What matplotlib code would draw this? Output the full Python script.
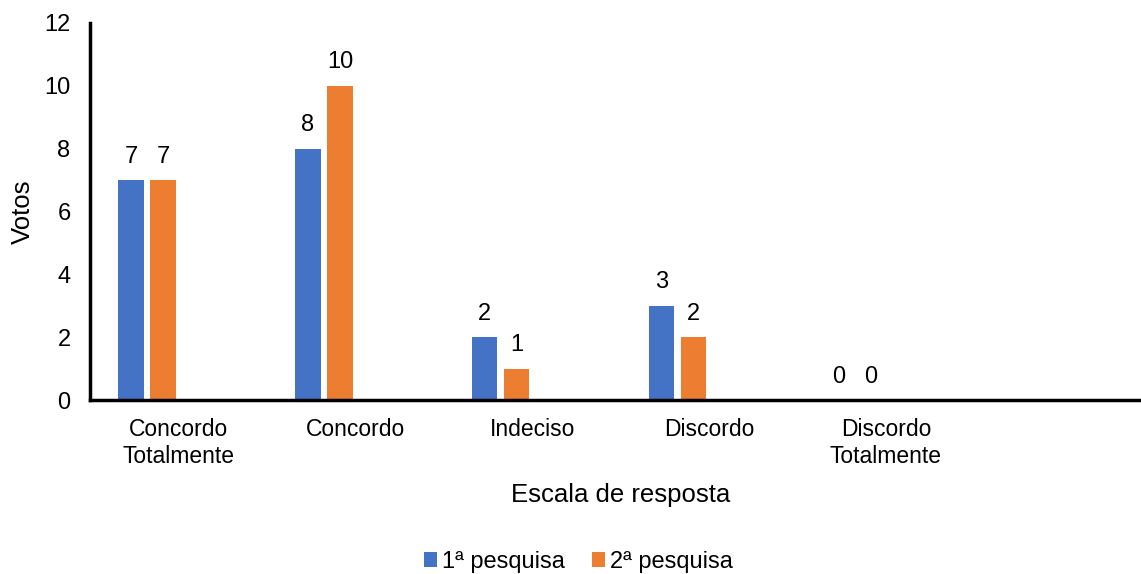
import numpy as np
import matplotlib.pyplot as plt

plt.rcParams['font.family'] = ['Liberation Sans', 'DejaVu Sans']

categorias = ['Concordo\nTotalmente', 'Concordo', 'Indeciso', 'Discordo', 'Discordo\nTotalmente']
pesquisa_1 = [7, 8, 2, 3, 0]
pesquisa_2 = [7, 10, 1, 2, 0]

azul = '#4472C4'
laranja = '#ED7D31'

fig = plt.figure(figsize=(11.41, 5.74), dpi=100)
ax = fig.add_axes([0.0789, 0.303, 0.93, 0.657])

x = np.arange(len(categorias))
largura = 0.143
b1 = ax.bar(x - 0.268, pesquisa_1, largura, color=azul, label='1ª pesquisa')
b2 = ax.bar(x - 0.087, pesquisa_2, largura, color=laranja, label='2ª pesquisa')

# rótulos de valor acima das barras
for barras in (b1, b2):
    for b in barras:
        h = b.get_height()
        ax.annotate(str(int(h)), (b.get_x() + b.get_width() / 2, h),
                    xytext=(0, 9), textcoords='offset points',
                    ha='center', va='bottom', fontsize=17)

ax.set_xlim(-0.5, 5.5)
ax.set_ylim(0, 12)
ax.set_yticks(range(0, 13, 2))
ax.set_xticks(x)
ax.set_xticklabels(categorias, fontsize=16.5, linespacing=1.2)
ax.tick_params(axis='y', labelsize=17, length=0, pad=14)
ax.tick_params(axis='x', length=0, pad=13)

for lado in ('top', 'right'):
    ax.spines[lado].set_visible(False)
for lado in ('left', 'bottom'):
    ax.spines[lado].set_linewidth(2.5)
    ax.spines[lado].set_color('black')

ax.set_ylabel('Votos', fontsize=18.5, labelpad=7)
ax.set_xlabel('Escala de resposta', fontsize=18.5, labelpad=11)

fig.legend(handles=[b1, b2], loc='center', bbox_to_anchor=(0.507, 0.021),
           ncol=2, frameon=False, fontsize=17, handlelength=0.55,
           handleheight=0.55, handletextpad=0.2, columnspacing=1.15)

fig.savefig('out.png', dpi=100)
